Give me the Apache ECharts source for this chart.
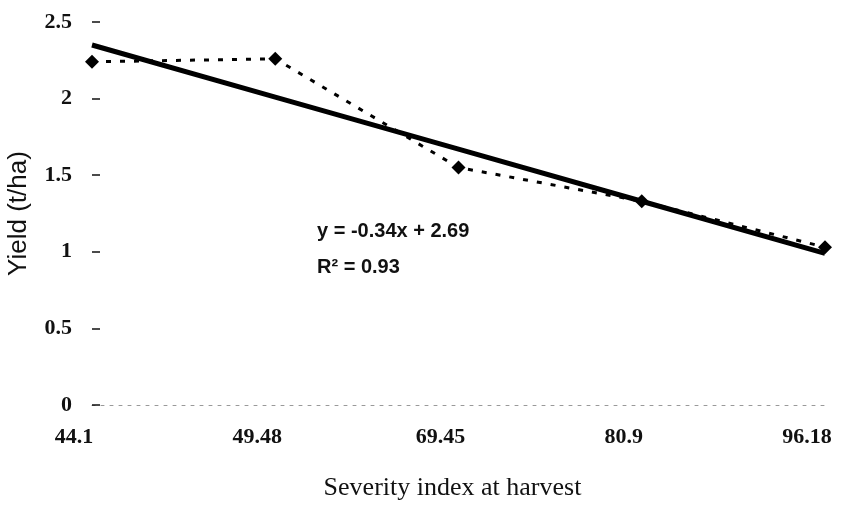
<!DOCTYPE html>
<html lang="en">
<head>
    <meta charset="UTF-8">
    <title>Yield vs severity</title>
    <script src="https://cdn.jsdelivr.net/npm/echarts@6.0.0/dist/echarts.min.js"></script>
</head>
<body style="margin:0;background:#fff;">

    <div id="main" style="width: 855px;height:505px;"></div>

    <script type="text/javascript">

      // data
      var severity = ['44.1', '49.48', '69.45', '80.9', '96.18'];
      var yieldValues = [2.24, 2.26, 1.55, 1.33, 1.03];
      // linear trend y = -0.34x + 2.69 (x = 1..5)
      var trendValues = [2.35, 2.01, 1.67, 1.33, 0.99];
      var yTicks = [0, 0.5, 1, 1.5, 2, 2.5];

      var myChart = echarts.init(document.getElementById('main'));

      var serif = '"Liberation Serif", "DejaVu Serif", serif';
      var sans = '"Liberation Sans", Arial, sans-serif';

      var option = {
        backgroundColor: '#fff',
        animation: false,
        grid: { left: 92, right: 30, top: 22, bottom: 100, outerBoundsMode: 'none', containLabel: false },
        xAxis: {
          type: 'category',
          data: severity,
          boundaryGap: false,
          name: 'Severity index at harvest',
          nameLocation: 'middle',
          nameGap: 70,
          nameTextStyle: { fontFamily: serif, fontSize: 26, color: '#111', padding: [0, 12, 0, 0] },
          axisLine: { show: true, lineStyle: { color: '#999', type: [3, 6], width: 1 } },
          axisTick: { show: false },
          axisLabel: {
            fontFamily: serif, fontSize: 22, fontWeight: 'bold', color: '#111',
            margin: 21, padding: [0, 36, 0, 0]
          }
        },
        yAxis: {
          type: 'value',
          min: 0,
          max: 2.5,
          interval: 0.5,
          name: 'Yield (t/ha)',
          nameLocation: 'middle',
          nameGap: 60,
          nameRotate: 90,
          nameTextStyle: { fontFamily: sans, fontSize: 26, color: '#111' },
          axisLine: { show: false },
          axisTick: { show: true, inside: true, length: 8, lineStyle: { color: '#111', width: 1.5 } },
          splitLine: { show: false },
          axisLabel: {
            fontFamily: serif, fontSize: 22, fontWeight: 'bold', color: '#111',
            margin: 20,
            formatter: function (v) { return yTicks.indexOf(v) >= 0 ? String(v) : ''; }
          }
        },
        series: [
          {
            name: 'yield',
            type: 'line',
            data: yieldValues,
            symbol: 'diamond',
            symbolSize: 14,
            itemStyle: { color: '#000' },
            lineStyle: { color: '#000', width: 3, type: [5, 9] },
            z: 3
          },
          {
            name: 'trend',
            type: 'line',
            data: trendValues,
            symbol: 'none',
            lineStyle: { color: '#000', width: 5 },
            z: 4
          }
        ],
        graphic: [
          {
            type: 'text', left: 317, top: 221,
            style: { text: 'y = -0.34x + 2.69', fontFamily: sans, fontSize: 20, fontWeight: 'bold', fill: '#111' }
          },
          {
            type: 'text', left: 317, top: 257,
            style: { text: 'R² = 0.93', fontFamily: sans, fontSize: 20, fontWeight: 'bold', fill: '#111' }
          }
        ]
      };

      myChart.setOption(option);

    </script>
  </body>
</html>
